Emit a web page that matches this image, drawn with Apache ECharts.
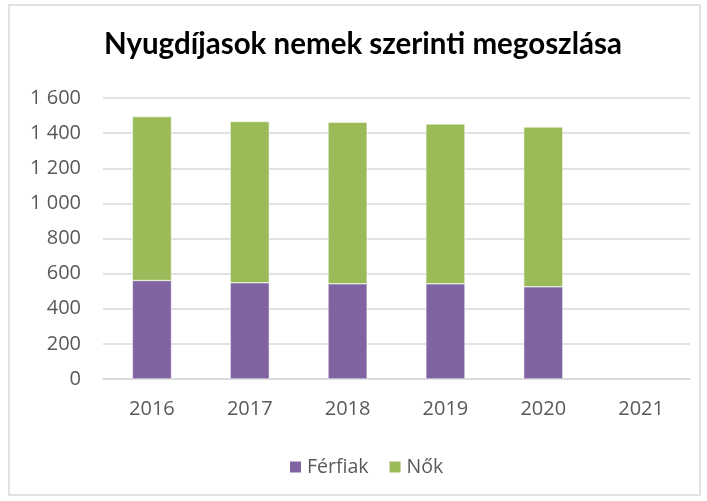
<!DOCTYPE html>
<html>
<head>
<meta charset="utf-8">
<script src="https://cdn.jsdelivr.net/npm/echarts@6/dist/echarts.min.js"></script>
<style>
  html, body { margin: 0; padding: 0; background: #fff; }
  #chart { width: 707px; height: 501px; }
</style>
</head>
<body>
<div id="chart"></div>
<script>
// Pensioners by sex, per year (2021 has no data yet)
const years = ['2016', '2017', '2018', '2019', '2020', '2021'];
const ferfiak = [561, 548, 542, 542, 525, null];
const nok = [933, 918, 920, 910, 910, null];
const yTicks = [0, 200, 400, 600, 800, 1000, 1200, 1400, 1600];

const titleFont = 'Lato, "Open Sans", sans-serif';
const labelFont = '"Open Sans", "Noto Sans", sans-serif';
const fmt = v => String(v).replace(/\B(?=(\d{3})+(?!\d))/g, ' ');

const chart = echarts.init(document.getElementById('chart'), null, { renderer: 'canvas' });
chart.setOption({
  animation: false,
  backgroundColor: '#ffffff',
  textStyle: { fontFamily: labelFont },
  title: {
    text: 'Nyugdíjasok nemek szerinti megoszlása',
    left: 104,
    top: 29,
    padding: 0,
    textStyle: { fontFamily: titleFont, fontSize: 29.5, fontWeight: 'bold', color: '#000000' }
  },
  graphic: [{
    type: 'rect',
    shape: { x: 9, y: 5, width: 691, height: 490 },
    style: { fill: 'none', stroke: '#d9d9d9', lineWidth: 1.5 },
    silent: true,
    z: -1
  }],
  legend: {
    top: 452,
    left: 283,
    itemWidth: 13,
    itemHeight: 13,
    itemGap: 19,
    icon: 'rect',
    textStyle: { fontFamily: labelFont, fontSize: 19.5, color: '#595959' },
    data: ['Férfiak', 'Nők']
  },
  grid: { left: 103, right: 17, top: 98, bottom: 122, containLabel: false },
  xAxis: {
    type: 'category',
    data: years,
    axisLine: { show: true, lineStyle: { color: '#d9d9d9', width: 1.5 } },
    axisTick: { show: false },
    axisLabel: { fontFamily: labelFont, fontSize: 20, color: '#595959', margin: 20 }
  },
  yAxis: {
    type: 'value',
    min: yTicks[0],
    max: yTicks[yTicks.length - 1],
    interval: 200,
    axisLine: { show: false },
    axisTick: { show: false },
    splitLine: { lineStyle: { color: '#d9d9d9', width: 1.5 } },
    axisLabel: { fontFamily: labelFont, fontSize: 20, color: '#595959', margin: 22, formatter: fmt }
  },
  series: [
    {
      name: 'Férfiak',
      type: 'bar',
      stack: 'total',
      data: ferfiak,
      barWidth: '40%',
      itemStyle: { color: '#8064A2', borderColor: '#ffffff', borderWidth: 0.5 }
    },
    {
      name: 'Nők',
      type: 'bar',
      stack: 'total',
      data: nok,
      barWidth: '40%',
      itemStyle: { color: '#9BBB59', borderColor: '#ffffff', borderWidth: 0.5 }
    }
  ]
});
</script>
</body>
</html>
